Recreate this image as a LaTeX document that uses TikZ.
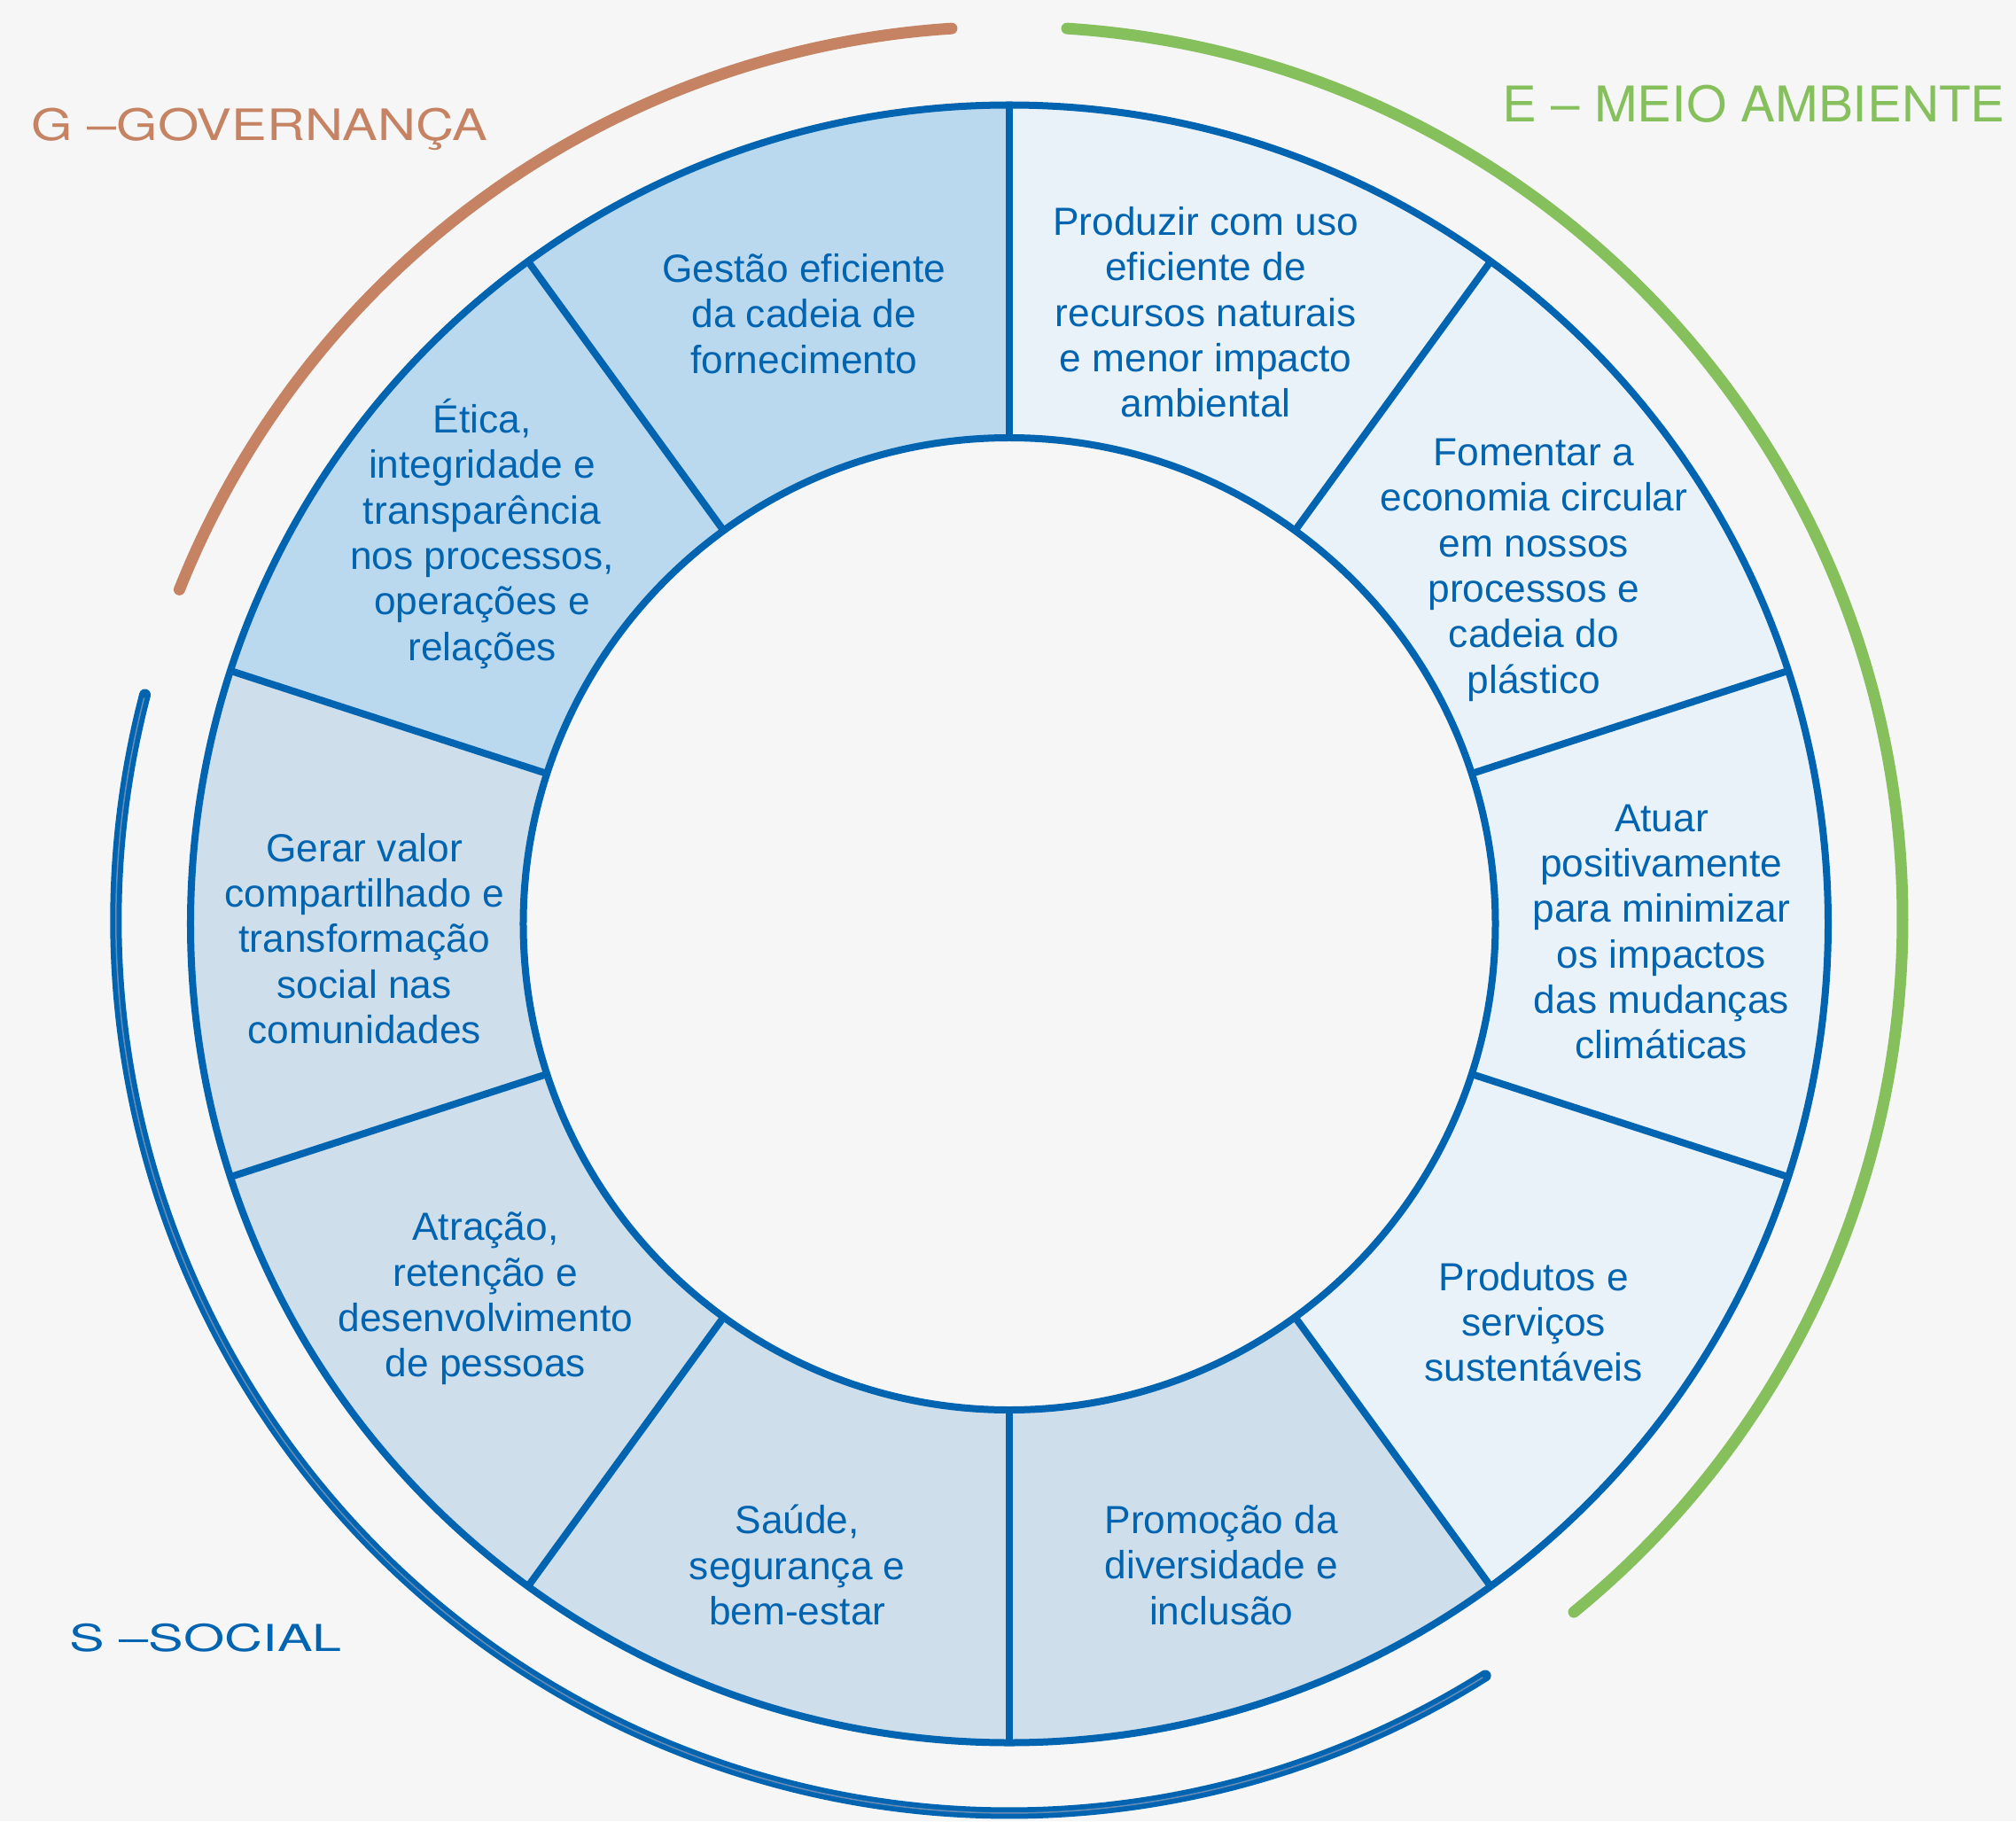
\documentclass[tikz,border=0pt]{standalone}
\usepackage{fontspec}
\setmainfont{Liberation Sans}
\newfontfamily\envfont[FakeStretch=1.05]{TeX Gyre Heros}
\newfontfamily\govfont[FakeStretch=1.22]{TeX Gyre Heros}
\newfontfamily\socfont[FakeStretch=1.42]{TeX Gyre Heros}
\usetikzlibrary{positioning}
\definecolor{paper}{RGB}{246,246,246}
\definecolor{ringblue}{RGB}{0,100,176}
\definecolor{envfill}{RGB}{234,242,249}
\definecolor{socfill}{RGB}{206,222,234}
\definecolor{govfill}{RGB}{186,217,239}
\definecolor{envgreen}{RGB}{133,192,93}
\definecolor{govbrown}{RGB}{197,131,99}
\definecolor{socline}{RGB}{105,140,182}

\begin{document}
\begin{tikzpicture}[
  goal/.style={align=center, text=ringblue, inner sep=0pt, font=\fontsize{12.6}{14.6}\selectfont},
  pillar/.style={anchor=base west, inner sep=0pt},
  divider/.style={draw=ringblue, line width=0.08cm},
  band/.style={line width=0.13cm, line cap=round}
]
  % Canvas
  \fill[paper] (-11.39,10.425) rectangle (11.36,-10.125);
  \useasboundingbox (-11.39,10.425) rectangle (11.36,-10.125);

  % Sectors
  \fill[envfill] (90:9.24) arc[start angle=90, end angle=-54, radius=9.24] -- (-54:5.485) arc[start angle=-54, end angle=90, radius=5.485] -- cycle;
  \fill[socfill] (-54:9.24) arc[start angle=-54, end angle=-198, radius=9.24] -- (162:5.485) arc[start angle=-198, end angle=-54, radius=5.485] -- cycle;
  \fill[govfill] (162:9.24) arc[start angle=162, end angle=90, radius=9.24] -- (90:5.485) arc[start angle=90, end angle=162, radius=5.485] -- cycle;

  % Ring
  \draw[divider] (0,0) circle[radius=9.24];
  \draw[divider] (0,0) circle[radius=5.485];
  \draw[divider] (90:5.485) -- (90:9.24);
  \draw[divider] (54:5.485) -- (54:9.24);
  \draw[divider] (18:5.485) -- (18:9.24);
  \draw[divider] (-18:5.485) -- (-18:9.24);
  \draw[divider] (-54:5.485) -- (-54:9.24);
  \draw[divider] (-90:5.485) -- (-90:9.24);
  \draw[divider] (-126:5.485) -- (-126:9.24);
  \draw[divider] (-162:5.485) -- (-162:9.24);
  \draw[divider] (162:5.485) -- (162:9.24);
  \draw[divider] (126:5.485) -- (126:9.24);

  % Outer bands
  \begin{scope}[shift={(0,0.045)}]
    \draw[band, envgreen] (86.3:10.08) arc[start angle=86.3, end angle=-50.8, radius=10.08];
    \draw[band, govbrown] (93.7:10.08) arc[start angle=93.7, end angle=158.3, radius=10.08];
    \draw[band, ringblue] (165.4:10.08) arc[start angle=165.4, end angle=302.2, radius=10.08];
    \draw[socline, line width=0.015cm] (165.6:10.08) arc[start angle=165.6, end angle=302, radius=10.08];
  \end{scope}

  % Pillars
  \node[pillar, text=envgreen, font=\fontsize{15.8}{18}\selectfont] (meio) at (5.56,9.045) {\envfont E – MEIO AMBIENTE};
  \node[pillar, text=govbrown, font=\fontsize{13.9}{16}\selectfont] (governanca) at (-11.04,8.835) {\govfont G –GOVERNANÇA};
  \node[pillar, text=ringblue, font=\fontsize{11.9}{14}\selectfont] (social) at (-10.61,-8.205) {\socfont S –SOCIAL};

  % E - sectors
  \node[goal] (produzir) at (72.2:7.25) {Produzir com uso\\eficiente de\\recursos naturais\\e menor impacto\\ambiental};
  \node[goal] (circular) at (34:7.14) {Fomentar a\\economia circular\\em nossos\\processos e\\cadeia do\\plástico};
  \node[goal] (clima) at (-0.7:7.36) {Atuar\\positivamente\\para minimizar\\os impactos\\das mudanças\\climáticas};
  \node[goal] (produtos) at (-37.2:7.43) {Produtos e\\serviços\\sustentáveis};

  % S - sectors
  \node[goal] (diversidade) at (-71.7:7.62) {Promoção da\\diversidade e\\inclusão};
  \node[goal] (saude) at (-108.3:7.62) {Saúde,\\segurança e\\bem-estar};
  \node[goal] (pessoas) at (-144.4:7.27) {Atração,\\retenção e\\desenvolvimento\\de pessoas};
  \node[goal] (valor) at (181.3:7.28) {Gerar valor\\compartilhado e\\transformação\\social nas\\comunidades};

  % G - sectors
  \node[goal] (etica) at (143.5:7.40) {Ética,\\integridade e\\transparência\\nos processos,\\operações e\\relações};
  \node[goal] (cadeia) at (108.6:7.265) {Gestão eficiente\\da cadeia de\\fornecimento};
\end{tikzpicture}
\end{document}
